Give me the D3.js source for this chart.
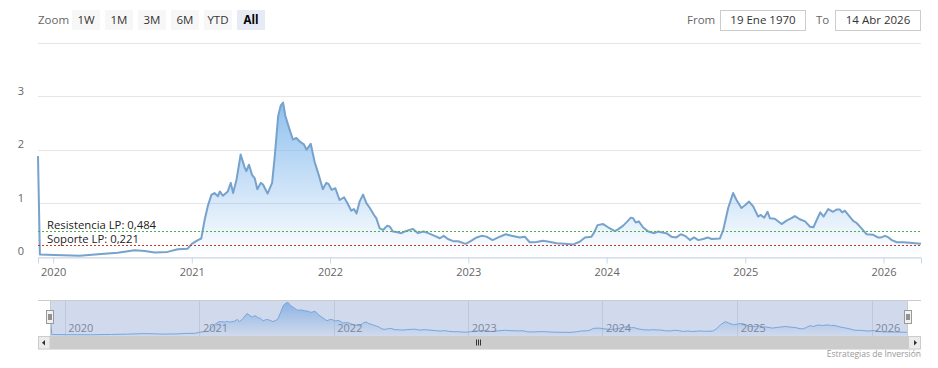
<!DOCTYPE html>
<html>
<head>
<script src="https://d3js.org/d3.v7.min.js"></script>
<style>
  body {margin: 0; background: #fff;}
  svg {font-family: "Open Sans", sans-serif;}
  .grid line {stroke: #e6e6e6; stroke-width: 1;}
  .xaxis path, .xaxis line {stroke: #ccd6eb;}
  .xaxis text, .ylab text {fill: #666; font-size: 11px;}
</style>
</head>
<body>
<svg id="chart" width="938" height="368"></svg>
<script>
// weekly reading of the long term ratio
const dates = [
  "2019-11-22","2019-11-27","2020-01-05","2020-03-11","2020-05-07","2020-06-19","2020-08-03","2020-08-30",
  "2020-09-25","2020-10-29","2020-11-25","2020-12-21","2021-01-01","2021-01-17","2021-01-26","2021-02-04",
  "2021-02-12","2021-02-22","2021-03-02","2021-03-11","2021-03-16","2021-03-24","2021-04-06","2021-04-14",
  "2021-04-20","2021-04-29","2021-05-10","2021-05-21","2021-05-25","2021-06-01","2021-06-09","2021-06-16",
  "2021-06-23","2021-07-02","2021-07-08","2021-07-20","2021-08-01","2021-08-08","2021-08-17","2021-08-24",
  "2021-08-30","2021-09-05","2021-09-16","2021-09-25","2021-10-04","2021-10-15","2021-10-24","2021-10-31",
  "2021-11-11","2021-11-21","2021-12-02","2021-12-13","2021-12-22","2021-12-28","2022-01-05","2022-01-15",
  "2022-01-26","2022-02-07","2022-02-16","2022-02-26","2022-03-05","2022-03-12","2022-03-20","2022-03-29",
  "2022-04-07","2022-04-16","2022-04-27","2022-05-03","2022-05-12","2022-05-21","2022-06-01","2022-06-08",
  "2022-06-16","2022-06-25","2022-07-08","2022-07-17","2022-08-08","2022-08-21","2022-09-05","2022-09-17",
  "2022-10-04","2022-10-18","2022-10-28","2022-11-08","2022-11-22","2022-12-05","2022-12-25","2023-01-07",
  "2023-01-23","2023-02-05","2023-02-18","2023-03-06","2023-03-21","2023-04-10","2023-04-25","2023-05-17",
  "2023-05-30","2023-06-12","2023-06-30","2023-07-17","2023-08-02","2023-08-22","2023-09-13","2023-10-05",
  "2023-10-22","2023-11-05","2023-11-22","2023-11-29","2023-12-08","2023-12-23","2024-01-05","2024-01-23",
  "2024-01-31","2024-02-14","2024-02-25","2024-03-05","2024-03-11","2024-03-18","2024-03-26","2024-04-06",
  "2024-04-20","2024-05-06","2024-05-16","2024-05-27","2024-06-07","2024-06-20","2024-07-03","2024-07-15",
  "2024-07-26","2024-08-08","2024-08-19","2024-08-30","2024-09-12","2024-09-24","2024-10-04","2024-10-26",
  "2024-11-04","2024-11-17","2024-11-30","2024-12-09","2024-12-22","2025-01-02","2025-01-11","2025-01-22",
  "2025-02-04","2025-02-11","2025-02-20","2025-03-01","2025-03-07","2025-03-20","2025-04-07","2025-04-20",
  "2025-05-03","2025-05-12","2025-05-25","2025-06-08","2025-06-21","2025-06-30","2025-07-09","2025-07-18",
  "2025-07-27","2025-08-08","2025-08-21","2025-08-30","2025-09-08","2025-09-14","2025-09-21","2025-09-30",
  "2025-10-13","2025-10-22","2025-11-04","2025-11-17","2025-12-05","2025-12-17","2025-12-26","2026-01-05",
  "2026-01-14","2026-01-23","2026-02-05","2026-02-22","2026-03-12","2026-03-25","2026-04-10"
];
const values = [
  1.88,0.04,0.03,0.02,0.05,0.075,0.12,0.105,
  0.08,0.09,0.14,0.15,0.24,0.31,0.34,0.69,
  0.94,1.16,1.19,1.13,1.22,1.14,1.22,1.38,
  1.19,1.44,1.91,1.66,1.6,1.72,1.53,1.47,
  1.26,1.38,1.35,1.18,1.38,1.88,2.63,2.83,
  2.88,2.63,2.38,2.19,2.22,2.14,2.1,2.0,
  2.11,1.78,1.53,1.26,1.38,1.36,1.25,1.28,
  1.06,1.11,1.0,0.86,0.89,0.81,1.03,1.16,
  1.0,0.91,0.78,0.72,0.53,0.5,0.58,0.56,
  0.47,0.46,0.44,0.47,0.52,0.44,0.47,0.44,
  0.39,0.345,0.39,0.33,0.29,0.29,0.24,0.29,
  0.36,0.39,0.375,0.31,0.36,0.42,0.39,0.36,
  0.375,0.27,0.275,0.3,0.28,0.25,0.24,0.23,
  0.28,0.36,0.375,0.45,0.59,0.61,0.55,0.48,
  0.51,0.58,0.66,0.73,0.72,0.64,0.66,0.55,
  0.47,0.44,0.47,0.45,0.44,0.375,0.36,0.42,
  0.39,0.31,0.36,0.31,0.33,0.36,0.33,0.34,
  0.5,0.91,1.19,1.06,0.91,0.97,1.03,0.94,
  0.75,0.78,0.73,0.84,0.72,0.71,0.61,0.675,
  0.72,0.76,0.70,0.66,0.56,0.55,0.69,0.83,
  0.75,0.89,0.84,0.88,0.88,0.83,0.86,0.78,
  0.67,0.63,0.53,0.42,0.41,0.36,0.36,0.39,
  0.36,0.31,0.27,0.27,0.26,0.25,0.24
];
const levelValues = [0.484, 0.221];
const levelLabels = ["Resistencia LP: 0,484", "Soporte LP: 0,221"];
const yTicks = [0, 1, 2, 3, 4];
const yLabels = ["0", "1", "2", "3"];
const zoomButtons = ["1W", "1M", "3M", "6M", "YTD", "All"];
const rangeFrom = "19 Ene 1970", rangeTo = "14 Abr 2026";
const creditText = "Estrategias de Inversión";

let plot = {left: 38, right: 921, top: 42.7, bottom: 256.7};
let nav = {left: 50, right: 908, top: 300, bottom: 336};
let levelColors = ["#4caf50", "#c0392b"];
let lineColor = "#76a2cc", fillColor = "#7cb5ec";

let parse = d3.utcParse("%Y-%m-%d");
let data = dates.map((d, i) => ({date: parse(d), value: values[i]}));
let svg = d3.select("#chart");

let defs = svg.append("defs");
let grad = defs.append("linearGradient").attr("id", "areaGrad")
    .attr("x1", 0).attr("y1", 0).attr("x2", 0).attr("y2", 1);
grad.append("stop").attr("offset", 0).attr("stop-color", fillColor).attr("stop-opacity", 1);
grad.append("stop").attr("offset", 1).attr("stop-color", fillColor).attr("stop-opacity", 0);

let x = d3.scaleUtc().domain(d3.extent(data, d => d.date)).range([plot.left, plot.right]);
let y = d3.scaleLinear().domain([0, 4]).range([plot.bottom, plot.top]);

// grid lines + y labels
svg.append("g").attr("class", "grid").selectAll("line").data(yTicks).enter()
    .append("line").attr("x1", plot.left).attr("x2", plot.right)
    .attr("y1", d => Math.round(y(d)) + 0.5).attr("y2", d => Math.round(y(d)) + 0.5);
svg.append("g").attr("class", "ylab").selectAll("text").data(yLabels).enter()
    .append("text").attr("x", 24).attr("y", d => y(+d) - 1.5).attr("text-anchor", "end").text(d => d);

// main area + line
let area = d3.area().x(d => x(d.date)).y0(y(0)).y1(d => y(d.value));
let line = d3.line().x(d => x(d.date)).y(d => y(d.value));
svg.append("path").datum(data).attr("d", area).attr("fill", "url(#areaGrad)").attr("opacity", 0.85);
svg.append("path").datum(data).attr("d", line).attr("fill", "none")
    .attr("stroke", lineColor).attr("stroke-width", 2).attr("stroke-linejoin", "round");

// x axis
let xAxis = d3.axisBottom(x).ticks(d3.utcYear.every(1)).tickFormat(d3.utcFormat("%Y"))
    .tickSizeOuter(0).tickSize(6).tickPadding(5);
let gx = svg.append("g").attr("class", "xaxis").attr("transform", `translate(0,${Math.round(plot.bottom) + 0.5})`).call(xAxis);
gx.attr("font-family", null).attr("font-size", null);

// support / resistance
levelValues.forEach((v, i) => {
    let ly = Math.round(y(v)) + 0.5;
    svg.append("line").attr("x1", plot.left).attr("x2", plot.right).attr("y1", ly).attr("y2", ly)
        .attr("stroke", levelColors[i]).attr("stroke-dasharray", "2,2");
    svg.append("text").attr("x", 47).attr("y", ly - 3).attr("fill", "#222")
        .attr("font-size", "11.3px").text(levelLabels[i]);
});

// navigator
let xn = d3.scaleUtc().domain(x.domain()).range([nav.left, nav.right]);
let yn = d3.scaleLinear().domain([0, d3.max(values)]).range([nav.bottom - 1, nav.top + 2.5]);
let navTicks = x.ticks(d3.utcYear.every(1));
let gn = svg.append("g");
gn.selectAll("line.ng").data(navTicks).enter().append("line")
    .attr("x1", d => Math.round(xn(d)) + 0.5).attr("x2", d => Math.round(xn(d)) + 0.5)
    .attr("y1", nav.top).attr("y2", nav.bottom).attr("stroke", "#e6e6e6");
gn.append("path").datum(data).attr("d", d3.area().x(d => xn(d.date)).y0(nav.bottom).y1(d => yn(d.value)))
    .attr("fill", "url(#areaGrad)").attr("opacity", 0.75);
gn.append("path").datum(data).attr("d", d3.line().x(d => xn(d.date)).y(d => yn(d.value)))
    .attr("fill", "none").attr("stroke", fillColor).attr("stroke-width", 1);
gn.selectAll("text").data(navTicks).enter().append("text")
    .attr("x", d => xn(d) + 3.5).attr("y", 332).attr("fill", "#888").attr("font-size", "11px")
    .text(d3.utcFormat("%Y"));
gn.append("rect").attr("x", nav.left).attr("y", nav.top).attr("width", nav.right - nav.left)
    .attr("height", nav.bottom - nav.top).attr("fill", "rgba(102,133,194,0.3)");
gn.append("path").attr("d", `M${plot.left},${nav.top + 0.5}H${plot.right}M${nav.left + 0.5},${nav.top}V${nav.bottom}M${nav.right - 0.5},${nav.top}V${nav.bottom}`)
    .attr("stroke", "#cccccc").attr("fill", "none");
[nav.left, nav.right].forEach(cx => {
    gn.append("rect").attr("x", cx - 3.5).attr("y", 310.5).attr("width", 7).attr("height", 13)
        .attr("fill", "#f2f2f2").attr("stroke", "#999");
    gn.append("path").attr("d", `M${cx - 1},314V320M${cx + 1},314V320`).attr("stroke", "#333");
});

// scrollbar
let sb = svg.append("g");
sb.append("rect").attr("x", plot.left).attr("y", nav.bottom).attr("width", plot.right - plot.left).attr("height", 13.5).attr("fill", "#f2f2f2");
sb.append("rect").attr("x", nav.left).attr("y", nav.bottom).attr("width", nav.right - nav.left).attr("height", 13.5).attr("fill", "#cccccc");
sb.append("rect").attr("x", plot.left + 0.5).attr("y", nav.bottom + 0.5).attr("width", 11.5).attr("height", 12.5).attr("fill", "#ebebeb").attr("stroke", "#cccccc");
sb.append("rect").attr("x", nav.right + 0.5).attr("y", nav.bottom + 0.5).attr("width", 12).attr("height", 12.5).attr("fill", "#ebebeb").attr("stroke", "#cccccc");
sb.append("path").attr("d", "M45,340L42,342.7L45,345.4Z").attr("fill", "#333");
sb.append("path").attr("d", "M914,340L917,342.7L914,345.4Z").attr("fill", "#333");
let mid = Math.round((nav.left + nav.right) / 2);
sb.append("path").attr("d", `M${mid - 2.5},339.5V345.5M${mid - 0.5},339.5V345.5M${mid + 1.5},339.5V345.5`).attr("stroke", "#333");

// range selector
let selector = svg.append("g").attr("font-size", "11.5px");
selector.append("text").attr("x", 38).attr("y", 24).attr("fill", "#666").text("Zoom");
zoomButtons.forEach((b, i) => {
    let bx = 72 + i * 33;
    selector.append("rect").attr("x", bx).attr("y", 10).attr("width", 28).attr("height", 20)
        .attr("fill", b === "All" ? "#e6ebf5" : "#f7f7f7");
    selector.append("text").attr("x", bx + 14).attr("y", 24).attr("text-anchor", "middle")
        .attr("fill", b === "All" ? "#000" : "#333").attr("font-weight", b === "All" ? "bold" : "normal").text(b);
});
selector.append("text").attr("x", 687).attr("y", 24).attr("fill", "#666").text("From");
selector.append("rect").attr("x", 720.5).attr("y", 10.5).attr("width", 85).attr("height", 20).attr("fill", "#fff").attr("stroke", "#cccccc");
selector.append("text").attr("x", 763).attr("y", 24).attr("text-anchor", "middle").attr("fill", "#333").text(rangeFrom);
selector.append("text").attr("x", 816).attr("y", 24).attr("fill", "#666").text("To");
selector.append("rect").attr("x", 835.5).attr("y", 10.5).attr("width", 85).attr("height", 20).attr("fill", "#fff").attr("stroke", "#cccccc");
selector.append("text").attr("x", 878).attr("y", 24).attr("text-anchor", "middle").attr("fill", "#333").text(rangeTo);

// credits
svg.append("text").attr("x", 921).attr("y", 357).attr("text-anchor", "end").attr("fill", "#999")
    .attr("font-size", "8.5px").text(creditText);
</script>
</body>
</html>
